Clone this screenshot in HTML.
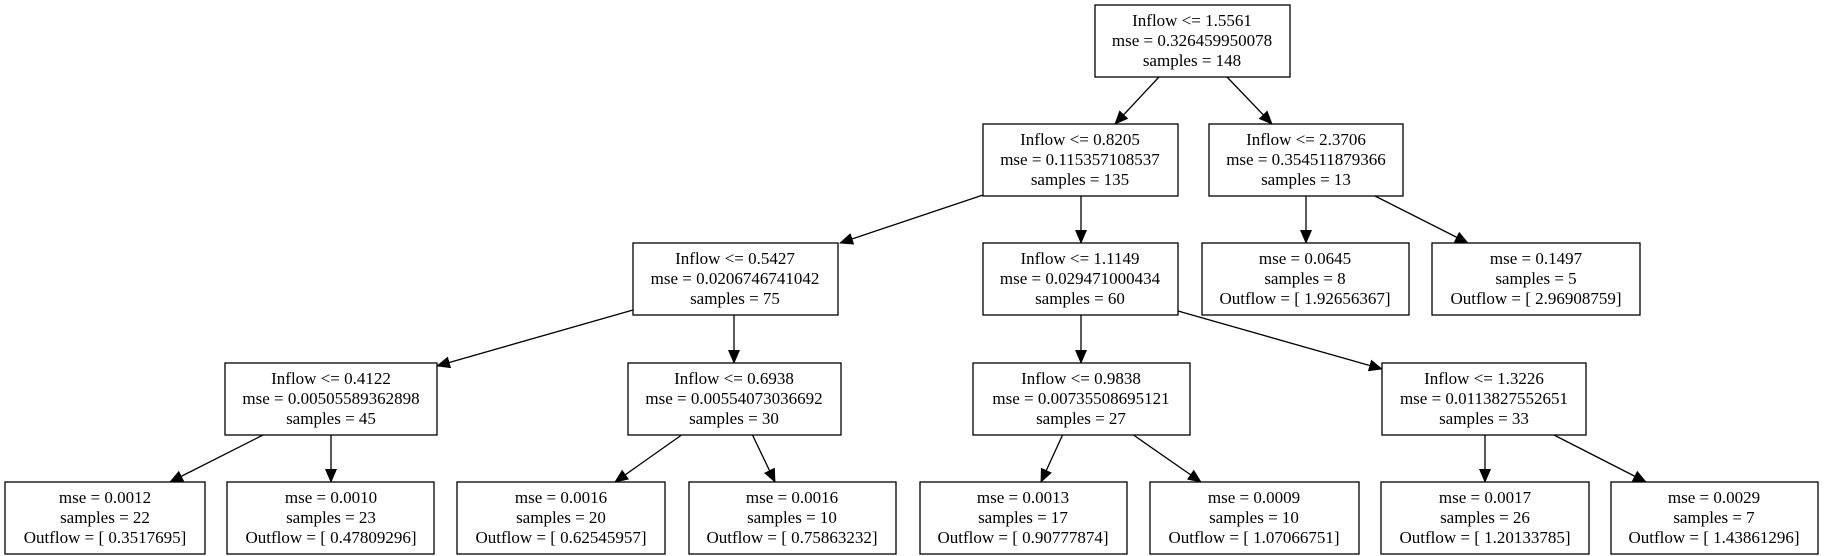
<!DOCTYPE html>
<html><head><meta charset="utf-8"><style>
html,body{margin:0;padding:0;background:#fff;}
svg{display:block;}
text{font-family:"Liberation Serif",serif;font-size:17px;fill:#000;text-anchor:middle;}
rect{fill:#fff;stroke:#000;stroke-width:1.3;}
line{stroke:#000;stroke-width:1.3;}
</style></head><body>
<svg width="1824" height="556" viewBox="0 0 1824 556" xmlns="http://www.w3.org/2000/svg">
<defs>
<marker id="a" markerWidth="14" markerHeight="12" refX="13" refY="6" orient="auto" markerUnits="userSpaceOnUse">
<path d="M0,0 L14,6 L0,12 Z" fill="#000"/>
</marker>
</defs>
<g marker-end="url(#a)">
<line x1="1159" y1="77" x2="1115" y2="124"/>
<line x1="1227" y1="77" x2="1272" y2="124"/>
<line x1="983" y1="195" x2="840" y2="243"/>
<line x1="1081" y1="195" x2="1081" y2="243"/>
<line x1="1306" y1="195" x2="1306" y2="243"/>
<line x1="1373" y1="195" x2="1468" y2="243"/>
<line x1="633" y1="310" x2="437" y2="366"/>
<line x1="734" y1="315" x2="734" y2="363"/>
<line x1="1081" y1="315" x2="1081" y2="363"/>
<line x1="1178" y1="311" x2="1382" y2="369"/>
<line x1="265" y1="434" x2="170" y2="482"/>
<line x1="331" y1="434" x2="331" y2="482"/>
<line x1="683" y1="434" x2="615" y2="482"/>
<line x1="752" y1="434" x2="775" y2="482"/>
<line x1="1063" y1="434" x2="1041" y2="482"/>
<line x1="1132" y1="434" x2="1201" y2="482"/>
<line x1="1485" y1="434" x2="1485" y2="482"/>
<line x1="1552" y1="434" x2="1646" y2="482"/>
</g>
<!-- nodes -->
<g>
<rect x="1095" y="5" width="195" height="72"/>
<text x="1192" y="26">Inflow &lt;= 1.5561</text><text x="1192" y="46">mse = 0.326459950078</text><text x="1192" y="66">samples = 148</text>

<rect x="983" y="124" width="195" height="72"/>
<text x="1080" y="145">Inflow &lt;= 0.8205</text><text x="1080" y="165">mse = 0.115357108537</text><text x="1080" y="185">samples = 135</text>

<rect x="1209" y="124" width="194" height="72"/>
<text x="1306" y="145">Inflow &lt;= 2.3706</text><text x="1306" y="165">mse = 0.354511879366</text><text x="1306" y="185">samples = 13</text>

<rect x="633" y="243" width="205" height="72"/>
<text x="735" y="264">Inflow &lt;= 0.5427</text><text x="735" y="284">mse = 0.0206746741042</text><text x="735" y="304">samples = 75</text>

<rect x="983" y="243" width="195" height="72"/>
<text x="1080" y="264">Inflow &lt;= 1.1149</text><text x="1080" y="284">mse = 0.029471000434</text><text x="1080" y="304">samples = 60</text>

<rect x="1202" y="243" width="207" height="72"/>
<text x="1305" y="264">mse = 0.0645</text><text x="1305" y="284">samples = 8</text><text x="1305" y="304">Outflow = [ 1.92656367]</text>

<rect x="1432" y="243" width="208" height="72"/>
<text x="1536" y="264">mse = 0.1497</text><text x="1536" y="284">samples = 5</text><text x="1536" y="304">Outflow = [ 2.96908759]</text>

<rect x="225" y="363" width="212" height="72"/>
<text x="331" y="384">Inflow &lt;= 0.4122</text><text x="331" y="404">mse = 0.00505589362898</text><text x="331" y="424">samples = 45</text>

<rect x="628" y="363" width="213" height="72"/>
<text x="734" y="384">Inflow &lt;= 0.6938</text><text x="734" y="404">mse = 0.00554073036692</text><text x="734" y="424">samples = 30</text>

<rect x="973" y="363" width="217" height="72"/>
<text x="1081" y="384">Inflow &lt;= 0.9838</text><text x="1081" y="404">mse = 0.00735508695121</text><text x="1081" y="424">samples = 27</text>

<rect x="1382" y="363" width="204" height="72"/>
<text x="1484" y="384">Inflow &lt;= 1.3226</text><text x="1484" y="404">mse = 0.0113827552651</text><text x="1484" y="424">samples = 33</text>

<rect x="5" y="482" width="200" height="72"/>
<text x="105" y="503">mse = 0.0012</text><text x="105" y="523">samples = 22</text><text x="105" y="543">Outflow = [ 0.3517695]</text>

<rect x="227" y="482" width="207" height="72"/>
<text x="331" y="503">mse = 0.0010</text><text x="331" y="523">samples = 23</text><text x="331" y="543">Outflow = [ 0.47809296]</text>

<rect x="457" y="482" width="208" height="72"/>
<text x="561" y="503">mse = 0.0016</text><text x="561" y="523">samples = 20</text><text x="561" y="543">Outflow = [ 0.62545957]</text>

<rect x="689" y="482" width="207" height="72"/>
<text x="792" y="503">mse = 0.0016</text><text x="792" y="523">samples = 10</text><text x="792" y="543">Outflow = [ 0.75863232]</text>

<rect x="920" y="482" width="207" height="72"/>
<text x="1023" y="503">mse = 0.0013</text><text x="1023" y="523">samples = 17</text><text x="1023" y="543">Outflow = [ 0.90777874]</text>

<rect x="1150" y="482" width="209" height="72"/>
<text x="1254" y="503">mse = 0.0009</text><text x="1254" y="523">samples = 10</text><text x="1254" y="543">Outflow = [ 1.07066751]</text>

<rect x="1381" y="482" width="208" height="72"/>
<text x="1485" y="503">mse = 0.0017</text><text x="1485" y="523">samples = 26</text><text x="1485" y="543">Outflow = [ 1.20133785]</text>

<rect x="1611" y="482" width="207" height="72"/>
<text x="1714" y="503">mse = 0.0029</text><text x="1714" y="523">samples = 7</text><text x="1714" y="543">Outflow = [ 1.43861296]</text>
</g>
</svg>
</body></html>
